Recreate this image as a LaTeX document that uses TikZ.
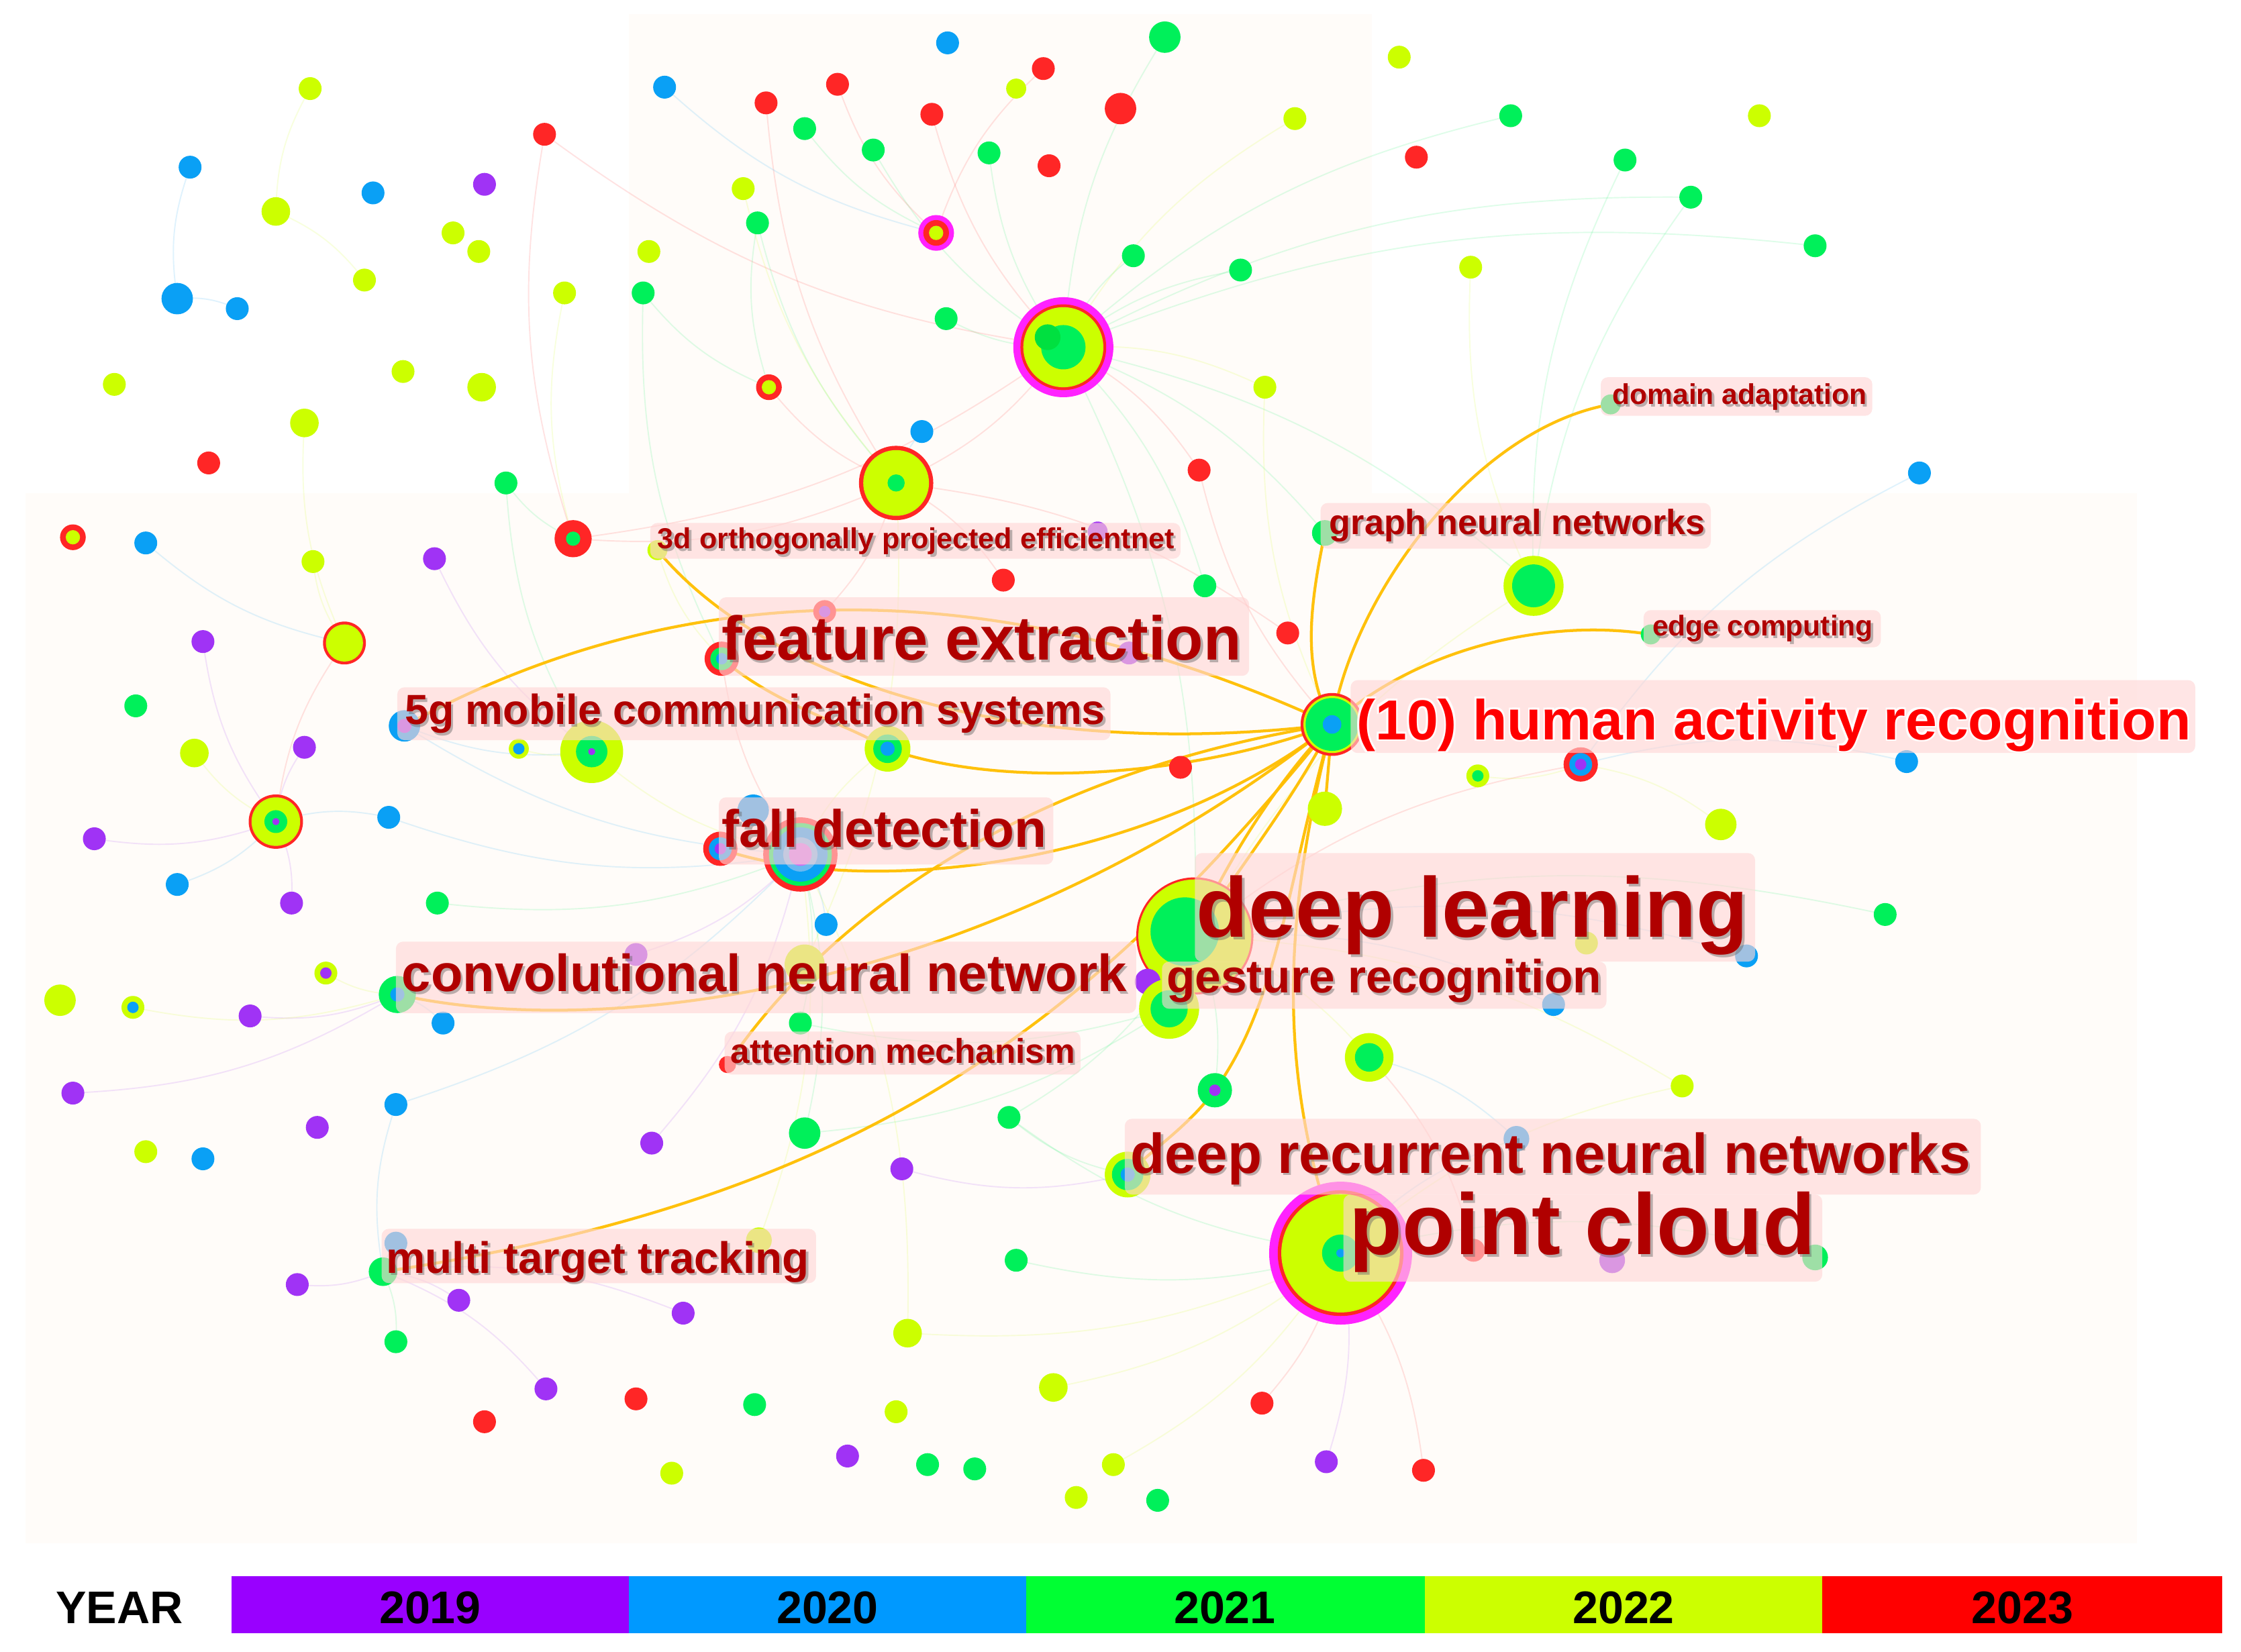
\documentclass[tikz,border=0pt]{standalone}
\usepackage{fontspec}
\setmainfont{Liberation Sans}
\pgfdeclarelayer{bgl}
\pgfdeclarelayer{edl}
\pgfsetlayers{bgl,edl,main}
\definecolor{cP}{HTML}{9900FF}
\definecolor{cB}{HTML}{0099FF}
\definecolor{cG}{HTML}{00FF33}
\definecolor{cY}{HTML}{CCFF00}
\definecolor{cR}{HTML}{FF0000}
\definecolor{nP}{HTML}{A033F5}
\definecolor{nB}{HTML}{0AA0F5}
\definecolor{nG}{HTML}{00F05A}
\definecolor{nGd}{HTML}{00E040}
\definecolor{nY}{HTML}{CCFF00}
\definecolor{nR}{HTML}{FF2626}
\definecolor{nM}{HTML}{FF22FF}
\definecolor{nLB}{HTML}{6AB8F0}
\definecolor{nLP}{HTML}{C870F0}
\definecolor{lblred}{HTML}{B00000}
\definecolor{hot}{HTML}{FFBE00}
\definecolor{boxpink}{HTML}{FFD6D6}
\definecolor{beige}{HTML}{FFF6EA}
\tikzset{
  pinkbox/.style={fill=boxpink,fill opacity=0.62,rounded corners=5pt},
  lbl/.style={anchor=base west,inner sep=0pt,text=lblred},
  lblsh/.style={anchor=base west,inner sep=0pt,text=black!60,text opacity=0.45},
  harhalo/.style={anchor=base west,inner sep=0pt,text=white,text opacity=0.9},
  hotedge/.style={draw=hot,line width=2pt,opacity=0.95},
  faint/.style={line width=0.9pt,opacity=0.13},
  yeartxt/.style={anchor=base,inner sep=0pt,text=black,font=\bfseries\fontsize{32}{34}\selectfont}
}
\newcommand\mynode[4]{\coordinate (#1) at (#2,#3);%
  \foreach \rr/\cc in {#4}{\fill[\cc] (#1) circle[radius=\rr];}}
\newcommand\mybox[4]{\fill[pinkbox] (#1,#2) rectangle (#3,#4);}
\newcommand\mylbl[5]{%
  \node[lblsh,font={\bfseries\fontsize{#4}{#4}\selectfont}] at (#2+1.6,#3+1.6) {#5};
  \node[lbl,font={\bfseries\fontsize{#4}{#4}\selectfont}] (#1) at (#2,#3) {#5};}
\begin{document}
\begin{tikzpicture}[x=1pt,y=-1pt]
\useasboundingbox (0,0) rectangle (1568,1156);
\begin{pgfonlayer}{bgl}
\fill[white] (0,0) rectangle (1568,1156);
\fill[beige,opacity=0.28] (18,345) rectangle (1495,1080);
\fill[beige,opacity=0.28] (440,10) rectangle (960,345);
\end{pgfonlayer}

% ---------------- nodes ----------------
\mynode{n1}{663}{30}{8/nB}
\mynode{n2}{815}{26}{11/nG}
\mynode{n3}{979}{40}{8/nY}
\mynode{n4}{586}{59}{8/nR}
\mynode{n5}{536}{72}{8/nR}
\mynode{n6}{730}{48}{8/nR}
\mynode{n7}{711}{62}{7/nY}
\mynode{n8}{217}{62}{8/nY}
\mynode{n9}{465}{61}{8/nB}
\mynode{n10}{652}{80}{8/nR}
\mynode{n11}{784}{76}{11/nR}
\mynode{n12}{563}{90}{8/nG}
\mynode{n13}{1057}{81}{8/nG}
\mynode{n14}{1231}{81}{8/nY}
\mynode{n15}{906}{83}{8/nY}
\mynode{n16}{381}{94}{8/nR}
\mynode{n17}{611}{105}{8/nG}
\mynode{n18}{692}{107}{8/nG}
\mynode{n19}{734}{116}{8/nR}
\mynode{n20}{991}{110}{8/nR}
\mynode{n21}{1137}{112}{8/nG}
\mynode{n22}{133}{117}{8/nB}
\mynode{n23}{339}{129}{8/nP}
\mynode{n24}{261}{135}{8/nB}
\mynode{n25}{520}{132}{8/nY}
\mynode{n26}{1183}{138}{8/nG}
\mynode{n27}{193}{148}{10/nY}
\mynode{n28}{530}{156}{8/nG}
\mynode{n29}{655}{163}{12.5/nM,9/nR,5/nY}
\mynode{n30}{317}{163}{8/nY}
\mynode{n31}{335}{176}{8/nY}
\mynode{n32}{454}{176}{8/nY}
\mynode{n33}{793}{179}{8/nG}
\mynode{n34}{868}{189}{8/nG}
\mynode{n35}{1029}{187}{8/nY}
\mynode{n36}{1270}{172}{8/nG}
\mynode{n37}{124}{209}{11/nB}
\mynode{n38}{166}{216}{8/nB}
\mynode{n39}{255}{196}{8/nY}
\mynode{n40}{395}{205}{8/nY}
\mynode{n41}{450}{205}{8/nG}
\mynode{n42}{662}{223}{8/nG}
\mynode{n43}{744}{243}{35/nM,30/nR,28/nY,15.5/nG}
\fill[nGd] (733,236) circle[radius=9];
\mynode{n44}{80}{269}{8/nY}
\mynode{n45}{282}{260}{8/nY}
\mynode{n46}{337}{271}{10/nY}
\mynode{n47}{538}{271}{9/nR,5/nY}
\mynode{n48}{885}{271}{8/nY}
\mynode{n49}{213}{296}{10/nY}
\mynode{n50}{645}{302}{8/nB}
\mynode{n51}{627}{338}{26/nR,23/nY,6/nG}
\mynode{n52}{146}{324}{8/nR}
\mynode{n53}{354}{338}{8/nG}
\mynode{n54}{839}{329}{8/nR}
\mynode{n55}{1343}{331}{8/nB}
\mynode{n56}{51}{376}{9/nR,5/nY}
\mynode{n57}{102}{380}{8/nB}
\mynode{n58}{401}{377}{13/nR,5/nG}
\mynode{n59}{304}{391}{8/nP}
\mynode{n60}{219}{393}{8/nY}
\mynode{n61}{460}{385}{7/nY}
\mynode{n62}{768}{372}{7/nP}
\mynode{n63}{927}{373}{9/nG}
\mynode{n64}{1073}{410}{21/nY,15/nG}
\mynode{n65}{702}{406}{8/nR}
\mynode{n66}{843}{410}{8/nG}
\mynode{n67}{1127}{283}{7/nG}
\mynode{n68}{1155}{444}{7/nG}
\mynode{n69}{142}{449}{8/nP}
\mynode{n70}{241}{450}{15/nR,13/nY}
\mynode{n71}{901}{443}{8/nR}
\mynode{n72}{577}{428}{8/nR,4/nP}
\mynode{n73}{505}{461}{12/nR,8/nG,4/nB}
\mynode{n74}{790}{457}{8/nP}
\mynode{n75}{932}{507}{22/nR,20/nY,18.5/nG,6.5/nB}
\mynode{n76}{95}{494}{8/nG}
\mynode{n77}{283}{508}{11/nB,5/nP}
\mynode{n78}{213}{523}{8/nP}
\mynode{n79}{136}{527}{10/nY}
\mynode{n80}{363}{524}{7/nY,4/nB}
\mynode{n81}{414}{526}{22/nY,11/nG,2.5/nP}
\mynode{n82}{621}{524}{16/nY,10/nG,5/nB}
\mynode{n83}{826}{537}{8/nR}
\mynode{n84}{1034}{543}{8/nY,4/nG}
\mynode{n85}{1106}{535}{12/nR,8/nB,4/nP}
\mynode{n86}{1334}{533}{8/nB}
\mynode{n87}{927}{566}{12/nY}
\mynode{n88}{193}{575}{19/nR,17/nY,8/nG,2.5/nP}
\mynode{n89}{66}{587}{8/nP}
\mynode{n90}{272}{572}{8/nB}
\mynode{n91}{1204}{577}{11/nY}
\mynode{n92}{560}{598}{26/nR,22/nG,19/nB,12/nLB,8/nLP}
\mynode{n93}{504}{594}{12/nR,8/nB,4/nP}
\mynode{n94}{527}{567}{11/nB}
\mynode{n95}{124}{619}{8/nB}
\mynode{n96}{578}{647}{8/nB}
\mynode{n97}{204}{632}{8/nP}
\mynode{n98}{306}{632}{8/nG}
\mynode{n99}{836}{655}{41/nR,39.5/nY}
\fill[nG] (829,652) circle[radius=24];
\mynode{n100}{1319}{640}{8/nG}
\mynode{n101}{445}{668}{8/nP}
\mynode{n102}{1222}{669}{8/nB}
\mynode{n103}{1110}{660}{8/nY}
\mynode{n104}{563}{675}{14/nY}
\mynode{n105}{42}{700}{11/nY}
\mynode{n106}{93}{705}{8/nY,4/nB}
\mynode{n107}{228}{681}{8/nY,4/nP}
\mynode{n108}{278}{696}{13/nG,5/nB}
\mynode{n109}{803}{687}{9/nP}
\mynode{n110}{818}{706}{21/nY,13/nG}
\mynode{n111}{175}{711}{8/nP}
\mynode{n112}{310}{716}{8/nB}
\mynode{n113}{560}{716}{8/nG}
\mynode{n114}{1087}{703}{8/nB}
\mynode{n115}{958}{740}{17/nY,10/nG}
\mynode{n116}{509}{745}{6/nR}
\mynode{n117}{850}{763}{12/nG,4/nP}
\mynode{n118}{51}{765}{8/nP}
\mynode{n119}{277}{773}{8/nB}
\mynode{n120}{222}{789}{8/nP}
\mynode{n121}{706}{782}{8/nG}
\mynode{n122}{1177}{760}{8/nY}
\mynode{n123}{563}{793}{11/nG}
\mynode{n124}{456}{800}{8/nP}
\mynode{n125}{102}{806}{8/nY}
\mynode{n126}{142}{811}{8/nB}
\mynode{n127}{1061}{797}{9/nB}
\mynode{n128}{631}{818}{8/nP}
\mynode{n129}{789}{822}{16/nY,11/nG,5/nB}
\mynode{n130}{938}{877}{50/nM,44/nR,41.5/nY,13/nG,3/nB}
\mynode{n131}{1031}{875}{8/nR}
\mynode{n132}{1128}{882}{9/nP}
\mynode{n133}{1270}{880}{9/nG}
\mynode{n134}{531}{868}{9/nY}
\mynode{n135}{277}{870}{8/nB}
\mynode{n136}{268}{890}{10/nG}
\mynode{n137}{711}{882}{8/nG}
\mynode{n138}{208}{899}{8/nP}
\mynode{n139}{321}{910}{8/nP}
\mynode{n140}{478}{919}{8/nP}
\mynode{n141}{635}{933}{10/nY}
\mynode{n142}{277}{939}{8/nG}
\mynode{n143}{737}{971}{10/nY}
\mynode{n144}{382}{972}{8/nP}
\mynode{n145}{445}{979}{8/nR}
\mynode{n146}{528}{983}{8/nG}
\mynode{n147}{627}{988}{8/nY}
\mynode{n148}{883}{982}{8/nR}
\mynode{n149}{339}{995}{8/nR}
\mynode{n150}{593}{1019}{8/nP}
\mynode{n151}{649}{1025}{8/nG}
\mynode{n152}{682}{1028}{8/nG}
\mynode{n153}{779}{1025}{8/nY}
\mynode{n154}{928}{1023}{8/nP}
\mynode{n155}{996}{1029}{8/nR}
\mynode{n156}{470}{1031}{8/nY}
\mynode{n157}{753}{1048}{8/nY}
\mynode{n158}{810}{1050}{8/nG}

% ---------------- edges ----------------
\begin{pgfonlayer}{edl}
\foreach \a/\b/\c in {n43/n2/nG,n43/n33/nG,n43/n34/nG,n43/n42/nG,n43/n18/nG,n43/n17/nG,n43/n10/nR,n43/n54/nR,n43/n64/nG,n43/n99/nG,n43/n51/nR,n43/n58/nR,n43/n16/nR,n43/n63/nG,n43/n15/nY,n43/n48/nY,n43/n66/nG,n43/n13/nG,n43/n36/nG,n43/n26/nG,
n51/n50/nB,n51/n28/nG,n51/n65/nR,n51/n47/nR,n51/n58/nR,n51/n72/nR,n51/n25/nY,n51/n5/nR,n51/n71/nR,n51/n104/nY,
n92/n81/nY,n92/n96/nB,n92/n113/nG,n92/n98/nG,n92/n123/nG,n92/n82/nY,n92/n73/nR,n92/n90/nB,n92/n77/nB,n92/n101/nP,n92/n124/nP,n92/n119/nB,
n99/n115/nY,n99/n117/nG,n99/n102/nB,n99/n122/nY,n99/n64/nY,n99/n100/nG,n99/n114/nB,n99/n121/nG,n99/n85/nR,
n130/n148/nR,n130/n154/nP,n130/n155/nR,n130/n143/nY,n130/n133/nG,n130/n121/nG,n130/n137/nG,n130/n153/nY,n130/n127/nB,n130/n122/nY,n130/n141/nY,
n88/n89/nP,n88/n97/nP,n88/n78/nP,n88/n70/nR,n88/n90/nB,n88/n79/nY,n88/n95/nB,n88/n69/nP,
n136/n142/nG,n136/n138/nP,n136/n139/nP,n136/n119/nB,n136/n140/nP,n136/n144/nP,
n81/n80/nY,n81/n59/nP,n81/n53/nG,n81/n77/nB,
n108/n111/nP,n108/n112/nB,n108/n107/nY,n108/n106/nY,n108/n118/nP,
n29/n4/nR,n29/n12/nG,n29/n6/nR,n29/n9/nB,n58/n16/nR,n58/n40/nY,n58/n53/nG,
n70/n60/nY,n70/n49/nY,n70/n57/nB,n37/n22/nB,n37/n38/nB,n27/n8/nY,n27/n39/nY,
n85/n86/nB,n85/n91/nY,n85/n84/nY,n85/n55/nB,
n64/n26/nG,n64/n21/nG,n64/n35/nY,n75/n54/nR,n75/n48/nY,n110/n113/nG,n110/n123/nG,n129/n128/nP,n129/n121/nG,n115/n127/nB,n115/n131/nR,n92/n134/nY,n92/n141/nY,n136/n135/nB,n73/n61/nY,n73/n41/nG,n47/n28/nG,n47/n41/nG}
  {\draw[faint,\c] (\a) to[bend left=14] (\b);}

\draw[hotedge] (n75) .. controls (945,420) and (1030,300) .. (n67);
\draw[hotedge] (n63) .. controls (915,430) and (912,470) .. (n75);
\draw[hotedge] (n75) .. controls (990,455) and (1080,432) .. (n68);
\draw[hotedge] (n61) .. controls (530,470) and (700,535) .. (n75);
\draw[hotedge] (n77) .. controls (480,400) and (700,400) .. (n75);
\draw[hotedge] (n73) .. controls (545,495) and (590,505) .. (n82);
\draw[hotedge] (n82) .. controls (700,552) and (830,545) .. (n75);
\draw[hotedge] (n93) .. controls (600,628) and (800,610) .. (n75);
\draw[hotedge] (n116) .. controls (580,640) and (720,540) .. (n75);
\draw[hotedge] (n108) .. controls (430,730) and (700,690) .. (n75);
\draw[hotedge] (n136) .. controls (600,840) and (760,720) .. (n75);
\draw[hotedge] (n75) .. controls (905,560) and (865,610) .. (n99);
\draw[hotedge] (n75) .. controls (880,560) and (830,650) .. (n110);
\draw[hotedge] (n75) .. controls (900,620) and (895,700) .. (n117);
\draw[hotedge] (n117) .. controls (830,790) and (805,805) .. (n129);
\draw[hotedge] (n75) .. controls (895,650) and (895,760) .. (n130);
\draw[hotedge] (n75) -- (n87);
\end{pgfonlayer}

% ---------------- label boxes ----------------
\mybox{1120}{264}{1310}{291}
\mybox{924}{352}{1197}{384}
\mybox{1150}{427}{1316}{453}
\mybox{455}{366}{826}{391}
\mybox{503}{418}{874}{473}
\mybox{278}{481}{777}{518}
\mybox{945}{476}{1536}{527}
\mybox{503}{558}{737}{605}
\mybox{836}{597}{1228}{673}
\mybox{813}{673}{1124}{706}
\mybox{277}{659}{795}{709}
\mybox{507}{722}{756}{752}
\mybox{787}{783}{1386}{836}
\mybox{940}{836}{1275}{897}
\mybox{267}{860}{571}{898}

% ---------------- labels ----------------
\mylbl{ldom}{1128}{283}{20}{domain adaptation}
\mylbl{lgnn}{930}{374}{24.5}{graph neural networks}
\mylbl{ledge}{1156}{445}{20}{edge computing}
\mylbl{l3d}{460}{384}{20.2}{3d orthogonally projected efficientnet}
\mylbl{lfeat}{505}{462}{43.3}{feature extraction}
\mylbl{l5g}{283}{507}{29.5}{5g mobile communication systems}
\mylbl{lfall}{505}{593}{36.8}{fall detection}
\mylbl{ldl}{837}{656}{59.4}{deep learning}
\mylbl{lgest}{816}{695}{32.6}{gesture recognition}
\mylbl{lcnn}{281}{694}{36.5}{convolutional neural network}
\mylbl{latt}{511}{744}{24.1}{attention mechanism}
\mylbl{lmtt}{270}{891}{30.8}{multi target tracking}
\mylbl{ldrnn}{791}{821}{39.3}{deep recurrent neural networks}
\mylbl{lpc}{944}{878}{60.5}{point cloud}
\foreach \dx/\dy in {1.15/1.15,-1.15/1.15,1.15/-1.15,-1.15/-1.15}
  {\node[harhalo,font={\bfseries\fontsize{39.5}{40}\selectfont}] at (949+\dx,517.5+\dy) {(10) human activity recognition};}
\node[anchor=base west,inner sep=0pt,text=cR,font={\bfseries\fontsize{39.5}{40}\selectfont}] (lhar) at (949,517.5) {(10) human activity recognition};

% ---------------- legend ----------------
\fill[cP] (162,1103) rectangle (440,1143);
\fill[cB] (440,1103) rectangle (718,1143);
\fill[cG] (718,1103) rectangle (997,1143);
\fill[cY] (997,1103) rectangle (1275,1143);
\fill[cR] (1275,1103) rectangle (1555,1143);
\node[anchor=base west,inner sep=0pt,font={\bfseries\fontsize{32}{34}\selectfont}] (lyear) at (39,1136) {YEAR};
\node[yeartxt] (y19) at (301,1136) {2019};
\node[yeartxt] (y20) at (579,1136) {2020};
\node[yeartxt] (y21) at (857,1136) {2021};
\node[yeartxt] (y22) at (1136,1136) {2022};
\node[yeartxt] (y23) at (1415,1136) {2023};
\end{tikzpicture}
\end{document}
